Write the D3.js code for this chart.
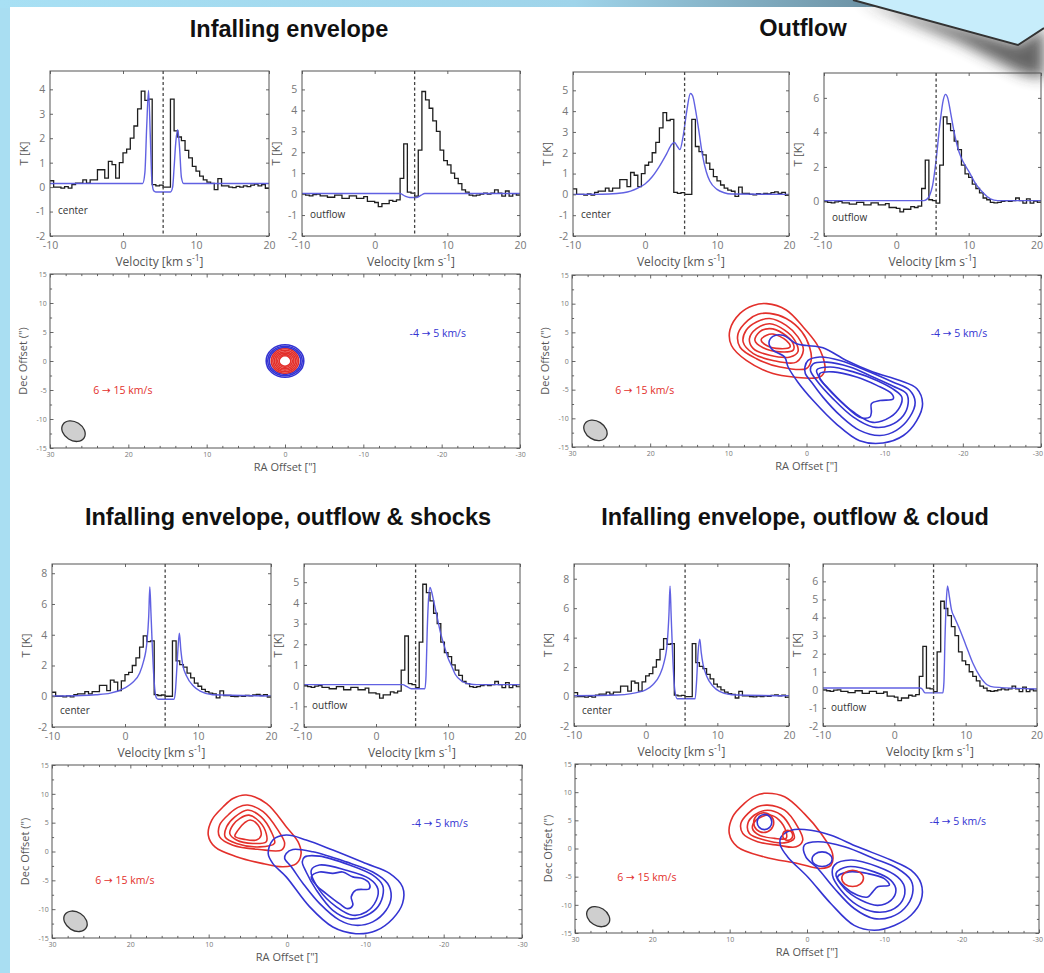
<!DOCTYPE html>
<html><head><meta charset="utf-8">
<script src="https://cdn.jsdelivr.net/npm/d3@7"></script>
<style>body{margin:0;background:#fff}svg{display:block}</style>
</head><body>
<svg id="c" width="1044" height="973"></svg>
<script>
// ---------------- DATA ----------------
const panelTitles = ["Infalling envelope", "Outflow", "Infalling envelope, outflow & shocks", "Infalling envelope, outflow & cloud"];
const velocityStart = -10, channelWidth = 0.5;
const systemicVelocity = 5.5;
const velocityTicks = [-10, 0, 10, 20];

// observed spectra (black histograms), 0.5 km/s channels from -10 km/s
const obsCenter = [0.26,0.0,0.0,-0.04,0.02,-0.04,0.1,0.16,0.16,0.3,0.16,0.3,0.3,0.71,0.71,0.37,1.05,0.92,0.37,1.0,
  1.4,1.55,2.0,2.5,3.2,3.93,3.55,3.6,0.1,0.05,0.08,0.0,0.0,3.6,2.3,2.05,1.9,1.5,1.2,0.85,
  0.65,0.45,0.3,0.2,0.15,-0.1,0.35,0.05,0.05,0.0,-0.02,0.03,0.0,0.05,0.02,0.08,0.12,0.05,0.1,-0.05];
const obsOutflow = [0.0,-0.05,-0.08,-0.02,0.0,-0.08,-0.08,-0.15,-0.15,-0.05,-0.05,-0.2,-0.2,-0.08,-0.08,-0.2,-0.2,-0.12,-0.35,-0.35,
  -0.4,-0.6,-0.45,-0.45,-0.3,-0.35,-0.27,0.75,2.4,0.1,0.05,-0.1,2.1,4.9,4.5,4.1,3.5,3.0,2.1,1.6,
  1.4,1.0,0.75,0.5,0.2,0.1,-0.05,-0.08,-0.05,0.0,0.05,0.0,0.05,0.2,0.05,-0.1,0.15,-0.1,0.02,-0.05];

// model spectra (blue), [velocity, T]
const modelCenterA = [[-10,0.15],[2.7,0.15],[3.0,0.6],[3.25,2.5],[3.5,3.95],[3.75,2.0],[3.95,0.3],[4.2,-0.15],[4.5,-0.2],[6.5,-0.2],[6.8,0.0],[7.0,0.8],[7.25,1.9],[7.5,2.35],[7.75,1.6],[8.0,0.4],[8.3,0.15],[20,0.15]];
const modelOutflowA = [[-10,0.03],[3.5,0.03],[4.2,-0.1],[4.8,-0.16],[5.8,-0.16],[6.4,-0.05],[6.9,0.03],[20,0.03]];
const modelCenterB = [[-10,0],[-5,0.02],[-3,0.08],[-2,0.16],[-1,0.3],[0,0.5],[1,0.85],[2,1.35],[3,1.95],[3.7,2.4],[4.1,2.5],[4.5,2.3],[4.85,2.15],[5.3,2.8],[5.8,4.0],[6.3,4.85],[6.6,4.75],[7,4.1],[7.5,3.0],[8,1.85],[8.5,1.1],[9,0.64],[10,0.24],[11,0.08],[12,0.02],[20,0]];
const modelOutflowB = [[-10,0.05],[3.8,0.05],[4.2,0.12],[4.6,0.35],[5,0.9],[5.5,2.4],[6,4.4],[6.5,5.9],[6.8,6.2],[7.1,6.0],[7.5,5.15],[8,4.0],[8.5,3.1],[9,2.5],[9.5,2.1],[10,1.76],[11,1.0],[12,0.5],[13,0.15],[14,0.05],[20,0.05]];
const modelCenterC = [[-10,0.02],[-6,0.05],[-4,0.1],[-2,0.2],[0,0.55],[1,0.87],[2,1.5],[2.5,2.2],[3,3.5],[3.25,5.2],[3.4,7.1],[3.55,5.5],[3.7,3.7],[4.0,0.9],[4.3,-0.1],[4.6,-0.2],[6.7,-0.2],[6.9,0.3],[7.1,1.8],[7.3,3.4],[7.45,4.1],[7.65,3.0],[7.9,2.07],[8.45,1.3],[9.4,0.65],[10.3,0.33],[12,0.1],[20,0.02]];
const modelOutflowC = [[-10,0.05],[3.7,0.05],[4.3,-0.05],[4.9,-0.15],[6.8,-0.15],[6.95,0.5],[7.1,2.5],[7.25,3.9],[7.5,4.75],[7.75,4.5],[8,4.1],[8.5,3.3],[9,2.5],[9.5,1.9],[10,1.34],[10.5,0.95],[11,0.55],[12,0.2],[13,0.08],[14,0.05],[20,0.05]];
const modelCenterD = [[-10,0.05],[-4,0.1],[-2,0.2],[0,0.45],[1,0.8],[2,1.5],[2.5,2.2],[3,3.6],[3.25,5.6],[3.4,7.5],[3.55,5.6],[3.75,3.0],[4.05,0.5],[4.4,-0.15],[6.9,-0.15],[7.1,1.0],[7.3,2.9],[7.55,3.9],[7.75,3.0],[8,2.2],[8.5,1.4],[9.4,0.7],[10.3,0.35],[12,0.12],[20,0.05]];
const modelOutflowD = [[-10,0.1],[3.6,0.1],[3.9,0.05],[4.3,-0.17],[6.8,-0.17],[6.95,0.4],[7.1,2.8],[7.3,5.0],[7.45,5.75],[7.7,5.2],[8,4.45],[8.5,3.95],[9,3.5],[10,2.5],[11,1.48],[12,0.74],[13,0.28],[14,0.15],[20,0.05]];

// y-axis upper limits and tick values per spectrum panel
const spectrumYMax = [4.75, 5.88, 5.88, 7.44, 8.6, 5.88, 9.0, 6.96];
const ticksBy1to4 = [-2,-1,0,1,2,3,4];
const ticksBy1to5 = [-2,-1,0,1,2,3,4,5];
const ticksBy2to6 = [-2,0,2,4,6];
const ticksBy2to8 = [-2,0,2,4,6,8];
const ticksBy1to6 = [-2,-1,0,1,2,3,4,5,6];
const spectrumLabels = ["center", "outflow"];

// maps
const raTicks = [30,20,10,0,-10,-20,-30];
const decTicks = [-15,-10,-5,0,5,10,15];
const blueRangeLabel = "-4 \u2192 5 km/s", redRangeLabel = "6 \u2192 15 km/s";
const blueLabelPos = [-19.5, 4.7], redLabelPos = [20.7, -5.2];
const beam = {ra: 27.0, dec: -12.1, a: 1.6, b: 1.6, angle: 32};

// map A: concentric rings [rRA, rDec] around the origin
const blueRingsA = [[2.4,2.8],[2.2,2.55],[2.0,2.3]];
const redRingsA = [[1.75,2.1],[1.55,1.85],[1.35,1.6],[1.15,1.35],[0.95,1.1],[0.75,0.9]];

// map B contours [RA, Dec]
const redB = [
 [[5.1,10.0],[2.6,8.9],[0.4,5.9],[-1.3,3.0],[-2.1,0.7],[-2.35,-1.6],[-1.7,-2.8],[1.7,-2.8],[4.3,-2.2],[7.7,0.1],[9.6,2.7],[9.8,5.4],[8.5,8.3],[6.8,9.7]],
 [[4.7,8.3],[2.6,7.4],[0.6,5.1],[-0.4,2.4],[-0.6,0.1],[0.0,-1.3],[3.4,-1.05],[6.4,0.4],[8.5,2.4],[8.75,4.8],[7.5,7.1],[6.2,8.15]],
 [[4.7,7.4],[2.6,6.2],[1.1,4.2],[0.4,1.9],[1.3,-0.2],[4.3,0.1],[6.8,1.3],[8.1,3.3],[7.7,5.4],[6.4,6.8]],
 [[4.7,6.5],[2.8,5.4],[1.5,3.6],[1.1,1.6],[2.1,0.7],[4.7,1.0],[6.8,2.15],[7.3,3.9],[6.4,5.65]],
 [[4.7,5.65],[3.0,4.8],[1.7,3.0],[1.7,1.9],[3.4,1.6],[5.55,2.3],[6.6,3.6],[6.0,5.1]],
 [[4.3,4.7],[2.6,3.6],[2.1,2.45],[3.4,2.15],[5.1,2.7],[5.8,3.7],[5.1,4.5]]
];
const blueB = [
 [[4.3,4.3],[3.0,4.5],[1.3,3.0],[0.0,2.7],[-2.1,2.3],[-5.1,0.1],[-8.5,-1.9],[-11.95,-3.4],[-14.1,-4.8],[-14.85,-7.45],[-14.1,-10.4],[-12.4,-13.0],[-9.8,-14.3],[-6.8,-13.9],[-3.8,-10.95],[-0.85,-6.9],[1.1,-3.7],[2.35,-1.05],[2.8,0.7],[4.3,1.9],[4.8,3.15]],
 [[0.2,-1.05],[-0.2,0.1],[-1.7,0.7],[-4.3,0.1],[-8.1,-1.9],[-11.1,-3.7],[-13.2,-5.1],[-13.9,-7.2],[-13.2,-9.8],[-11.5,-12.1],[-9.4,-13.0],[-6.8,-12.1],[-4.3,-9.5],[-2.1,-6.3],[-0.65,-3.7],[0.15,-2.2]],
 [[-0.85,-0.5],[-2.6,-0.2],[-5.55,-1.05],[-8.5,-2.8],[-11.1,-4.4],[-12.8,-5.7],[-13.0,-7.45],[-12.4,-9.5],[-10.7,-11.2],[-8.5,-11.5],[-6.0,-9.8],[-3.4,-6.6],[-1.3,-3.4],[-0.5,-1.6]],
 [[-1.3,-1.6],[-3.0,-1.05],[-6.0,-1.9],[-9.0,-3.4],[-11.3,-5.1],[-12.2,-6.3],[-11.95,-8.0],[-10.7,-9.8],[-8.5,-10.7],[-6.0,-8.9],[-3.8,-6.3],[-1.9,-3.4]],
 [[-1.7,-2.2],[-3.4,-1.9],[-6.4,-2.8],[-9.0,-4.25],[-10.9,-5.7],[-11.1,-6.6],[-9.4,-6.9],[-8.3,-7.45],[-8.3,-8.9],[-8.1,-9.8],[-6.8,-9.8],[-4.7,-7.45],[-2.8,-4.8],[-1.7,-3.1]]
];
// map C contours
const redC = [
 [[5.2,9.8],[2.6,8.3],[0.1,4.3],[-1.4,1.7],[-1.8,-0.35],[-1.2,-2.1],[0.5,-2.65],[3.05,-2.1],[6.45,-0.9],[9.2,0.8],[10.05,2.85],[9.6,5.45],[8.15,7.75],[6.9,9.2]],
 [[5.0,8.05],[3.05,6.9],[1.15,3.7],[0.3,1.4],[0.7,0.25],[3.5,0.35],[6.9,1.1],[8.6,2.55],[8.6,4.6],[7.3,6.6],[6.25,7.65]],
 [[5.0,7.2],[3.3,6.0],[2.0,3.4],[1.6,1.4],[3.5,0.8],[6.45,1.4],[7.9,2.55],[7.7,4.3],[6.65,6.0]],
 [[4.85,6.3],[3.5,5.15],[2.65,3.1],[2.65,1.7],[4.35,1.4],[6.45,2.0],[7.3,3.1],[6.9,4.6],[6.0,5.75]],
 [[4.7,5.45],[3.7,4.6],[3.3,2.85],[3.9,2.0],[5.4,2.1],[6.65,2.65],[6.25,3.7],[5.4,5.0]]
];
const blueC = [
 [[1.8,2.0],[0.1,2.85],[-2.45,2.0],[-5.85,0.25],[-10.1,-2.1],[-13.1,-3.8],[-14.75,-6.15],[-14.75,-9.0],[-13.5,-11.65],[-11.4,-13.7],[-8.8,-14.25],[-5.85,-13.1],[-2.9,-9.6],[0.1,-4.4],[1.8,-2.1],[2.4,-0.35]],
 [[0.1,-0.35],[-0.75,0.35],[-3.3,-0.05],[-7.55,-1.8],[-10.95,-3.55],[-12.85,-5.55],[-13.3,-7.85],[-12.65,-10.2],[-10.95,-12.2],[-8.8,-12.8],[-6.7,-11.9],[-4.15,-9.0],[-2.05,-5.55],[-0.55,-2.65],[0.3,-1.2]],
 [[-2.25,-0.95],[-4.15,-0.8],[-8.0,-2.35],[-10.95,-4.1],[-12.2,-5.85],[-12.2,-7.85],[-11.4,-9.9],[-9.65,-11.35],[-8.0,-11.65],[-5.85,-10.2],[-3.75,-6.7],[-2.45,-3.55],[-1.95,-1.8]],
 [[-3.1,-3.25],[-4.15,-2.35],[-7.55,-3.25],[-10.5,-4.7],[-11.6,-6.45],[-11.4,-8.45],[-10.1,-10.5],[-8.4,-11.05],[-6.3,-9.6],[-4.15,-6.7]],
 [[-3.1,-4.4],[-4.15,-3.55],[-5.85,-3.8],[-7.1,-3.55],[-8.4,-4.4],[-9.65,-4.7],[-10.5,-5.55],[-10.5,-6.45],[-8.8,-6.7],[-8.2,-7.85],[-8.4,-9.3],[-7.75,-9.9],[-6.7,-9.05],[-5.0,-7.3],[-3.75,-5.85]]
];
// map D contours
const redD = [
 [[5.5,9.8],[2.9,9.2],[0.35,6.2],[-1.8,2.7],[-3.3,-0.9],[-3.1,-2.95],[-1.8,-3.55],[1.2,-2.65],[5.5,-1.5],[9.0,0.3],[10.05,2.65],[9.6,5.65],[8.1,8.0],[6.8,9.3]],
 [[5.1,7.7],[2.9,6.8],[1.2,3.85],[0.55,1.5],[1.4,0.3],[3.8,0.6],[6.4,1.2],[8.3,2.65],[8.55,4.45],[7.65,6.2],[6.4,7.4]],
 [[5.1,6.8],[3.35,5.95],[2.05,3.55],[1.65,1.8],[2.95,1.0],[5.5,1.5],[7.45,2.65],[7.65,4.45],[6.8,5.95]],
 [[4.85,5.95],[3.6,5.05],[2.7,2.95],[2.7,1.8],[4.2,1.8],[6.15,2.35],[7.05,3.55],[6.6,5.05]]
];
const blueD = [
 [[3.35,2.05],[2.05,3.25],[-0.5,3.25],[-3.1,2.35],[-6.55,0.3],[-10.85,-2.05],[-13.45,-3.85],[-14.75,-6.2],[-14.75,-9.2],[-13.45,-11.85],[-11.3,-13.65],[-8.7,-14.5],[-6.1,-13.65],[-3.1,-9.8],[-0.1,-5.05],[2.5,-1.5],[3.45,0.6]],
 [[0.35,0.6],[-1.4,1.2],[-4.85,0.3],[-8.7,-1.8],[-11.7,-3.55],[-13.45,-5.65],[-13.65,-8.0],[-12.6,-10.65],[-10.85,-12.15],[-8.7,-12.45],[-6.1,-10.65],[-3.55,-7.1],[-1.4,-3.55],[0.15,-1.5]],
 [[-3.55,-2.95],[-5.7,-2.05],[-9.15,-3.25],[-11.7,-5.05],[-12.6,-6.8],[-12.35,-9.2],[-10.85,-10.95],[-8.7,-11.25],[-6.55,-10.1],[-4.4,-7.4],[-3.3,-4.75]],
 [[-3.75,-4.45],[-5.25,-3.25],[-8.7,-4.15],[-10.85,-5.65],[-11.5,-7.4],[-10.85,-9.2],[-9.15,-10.1],[-7.0,-9.2],[-4.85,-7.1]],
 [[-3.95,-5.05],[-5.45,-4.15],[-7.85,-4.45],[-10.0,-5.35],[-10.65,-6.5],[-9.15,-6.8],[-8.5,-7.7],[-7.85,-8.6],[-6.55,-8.3],[-4.85,-6.8]]
];
// isolated elliptical contours [RA, Dec, rRA, rDec]
const redBlobsD = [[5.6,4.6,1.3,1.75],[2.5,2.35,0.65,0.9],[-5.9,-5.3,1.4,1.45]];
const blueBlobsD = [[5.5,4.7,0.95,1.35],[-1.95,-1.9,1.3,1.3]];

// ---------------- DRAWING ----------------
const svg = d3.select("#c");
const defs = svg.append("defs");
const BLUE = "#3434d2", RED = "#e3302b", MODEL = "#5858e0";
const FONT = "'Open Sans','DejaVu Sans',sans-serif";
const PAGE_RIGHT = 1043;
let clipN = 0;

// background / page
const gTop = defs.append("linearGradient").attr("id","topband").attr("x1",0).attr("x2",1).attr("y1",0).attr("y2",0);
[[0,"#a8e0f4"],[0.55,"#9fd4ea"],[0.82,"#6f95a8"],[1,"#6f95a8"]].forEach(s=>gTop.append("stop").attr("offset",s[0]).attr("stop-color",s[1]));
const fl = defs.append("filter").attr("id","blur").attr("x","-50%").attr("y","-50%").attr("width","200%").attr("height","200%");
fl.append("feGaussianBlur").attr("stdDeviation",7);
svg.append("rect").attr("width",1044).attr("height",973).attr("fill","#a9def2");
svg.append("rect").attr("x",0).attr("y",0).attr("width",1044).attr("height",8).attr("fill","url(#topband)");
svg.append("rect").attr("x",10).attr("y",7).attr("width",1034).attr("height",966).attr("fill","#fff");
svg.append("path").attr("d","M858,0 L1018,44 L1044,28 L1044,78 L1022,74 L960,42 Z").attr("fill","#333").attr("opacity",0.75).attr("filter","url(#blur)");
svg.append("path").attr("d","M853,0 L1018,45 L1044,28 L1044,0 Z").attr("fill","#c7edfb");
svg.append("path").attr("d","M853,0 L1018,45 L1044,28").attr("fill","none").attr("stroke","#333").attr("stroke-width",2);

// titles
const titlePos = [[289,37],[803,36],[288,525],[795,525]];
panelTitles.forEach((t,i)=>svg.append("text").attr("x",titlePos[i][0]).attr("y",titlePos[i][1])
  .attr("text-anchor","middle").attr("font-family","'Liberation Sans',Arial,sans-serif").attr("font-weight","bold")
  .attr("font-size",23.5).attr("fill","#111").text(t));

function clipRect(b){
  const id = "clip"+(clipN++);
  defs.append("clipPath").attr("id",id).append("rect").attr("x",b.x0).attr("y",b.y0).attr("width",b.x1-b.x0).attr("height",b.y1-b.y0);
  return `url(#${id})`;
}
function styleAxis(g, fs){
  g.select(".domain").remove();
  g.selectAll(".tick line").attr("stroke","#666");
  g.selectAll(".tick text").attr("fill","#777").attr("font-size",fs).attr("font-family",FONT)
    .each(function(){
      const r = this.getBoundingClientRect();
      if (r.right > PAGE_RIGHT) d3.select(this).attr("dx", -(r.right - PAGE_RIGHT));
    });
}
function frame(b, x, y, xt, yt, xMinor, yMinor, fs, tick){
  const g = svg.append("g");
  const fmt = d => String(d);
  const bx = d3.axisBottom(x).tickValues(xt).tickSize(-tick).tickPadding(fs*0.55).tickFormat(fmt);
  g.append("g").attr("transform",`translate(0,${b.y1})`).call(bx).call(s=>styleAxis(s,fs));
  g.append("g").attr("transform",`translate(0,${b.y0})`).call(d3.axisTop(x).tickValues(xt).tickSize(-tick).tickFormat("")).call(s=>styleAxis(s,fs));
  g.append("g").attr("transform",`translate(${b.x0},0)`).call(d3.axisLeft(y).tickValues(yt).tickSize(-tick).tickPadding(fs*0.45).tickFormat(fmt)).call(s=>styleAxis(s,fs));
  g.append("g").attr("transform",`translate(${b.x1},0)`).call(d3.axisRight(y).tickValues(yt).tickSize(-tick).tickFormat("")).call(s=>styleAxis(s,fs));
  if (xMinor){
    [[b.y1,"axisBottom"],[b.y0,"axisTop"]].forEach(([yy,a])=>g.append("g").attr("transform",`translate(0,${yy})`)
      .call(d3[a](x).tickValues(xMinor).tickSize(-tick*0.6).tickFormat("")).call(s=>styleAxis(s,fs)));
  }
  if (yMinor){
    [[b.x0,"axisLeft"],[b.x1,"axisRight"]].forEach(([xx,a])=>g.append("g").attr("transform",`translate(${xx},0)`)
      .call(d3[a](y).tickValues(yMinor).tickSize(-tick*0.6).tickFormat("")).call(s=>styleAxis(s,fs)));
  }
  g.append("rect").attr("x",b.x0).attr("y",b.y0).attr("width",b.x1-b.x0).attr("height",b.y1-b.y0)
    .attr("fill","none").attr("stroke","#555").attr("stroke-width",1);
  return g;
}

function drawSpectrum(b, obs, model, yMax, yTicks, label){
  const x = d3.scaleLinear().domain([-10,20]).range([b.x0,b.x1]);
  const y = d3.scaleLinear().domain([-2,yMax]).range([b.y1,b.y0]);
  const plot = svg.append("g").attr("clip-path",clipRect(b));
  const pts = obs.map((t,i)=>[velocityStart+i*channelWidth, t]);
  pts.push([velocityStart+obs.length*channelWidth, obs[obs.length-1]]);
  plot.append("path").attr("d",d3.line().x(d=>x(d[0])).y(d=>y(d[1])).curve(d3.curveStepAfter)(pts))
    .attr("fill","none").attr("stroke","#1e1e1e").attr("stroke-width",1.3);
  plot.append("path").attr("d",d3.line().x(d=>x(d[0])).y(d=>y(d[1])).curve(d3.curveMonotoneX)(model))
    .attr("fill","none").attr("stroke",MODEL).attr("stroke-width",1.4).attr("opacity",0.95);
  plot.append("line").attr("x1",x(systemicVelocity)).attr("x2",x(systemicVelocity)).attr("y1",b.y0).attr("y2",b.y1)
    .attr("stroke","#444").attr("stroke-width",1.3).attr("stroke-dasharray","3,2.5");
  plot.append("text").attr("x",b.x0+8).attr("y",y(-1)).attr("dominant-baseline","middle")
    .attr("font-family",FONT).attr("font-size",10).attr("fill","#333").text(label);
  frame(b, x, y, velocityTicks, yTicks, null, null, 10.5, 3);
  const xl = svg.append("text").attr("x",(b.x0+b.x1)/2).attr("y",b.y1+30).attr("text-anchor","middle")
    .attr("font-family",FONT).attr("font-size",12).attr("fill","#555");
  xl.append("tspan").text("Velocity [km s");
  xl.append("tspan").attr("dy",-5).attr("font-size",8.5).text("-1");
  xl.append("tspan").attr("dy",5).text("]");
  svg.append("text").attr("transform",`translate(${b.x0-25},${(b.y0+b.y1)/2}) rotate(-90)`).attr("text-anchor","middle")
    .attr("dominant-baseline","middle").attr("font-family",FONT).attr("font-size",11.5).attr("fill","#555").text("T [K]");
}

function drawMap(b, cfg){
  const x = d3.scaleLinear().domain([30,-30]).range([b.x0,b.x1]);
  const y = d3.scaleLinear().domain([-15,15]).range([b.y1,b.y0]);
  const plot = svg.append("g").attr("clip-path",clipRect(b));
  const line = d3.line().x(d=>x(d[0])).y(d=>y(d[1])).curve(d3.curveCatmullRomClosed.alpha(0.5));
  const ell = (arr, col) => arr.forEach(e=>plot.append("ellipse").attr("cx",x(e[0])).attr("cy",y(e[1]))
      .attr("rx",Math.abs(x(e[2])-x(0))).attr("ry",Math.abs(y(e[3])-y(0)))
      .attr("fill","none").attr("stroke",col).attr("stroke-width",1.6));
  (cfg.red||[]).forEach(c=>plot.append("path").attr("d",line(c)).attr("fill","none").attr("stroke",RED).attr("stroke-width",1.6));
  (cfg.blue||[]).forEach(c=>plot.append("path").attr("d",line(c)).attr("fill","none").attr("stroke",BLUE).attr("stroke-width",1.6));
  if (cfg.blueRings) ell(cfg.blueRings.map(r=>[0,0,r[0],r[1]]), BLUE);
  if (cfg.redRings) ell(cfg.redRings.map(r=>[0,0,r[0],r[1]]), RED);
  if (cfg.redBlobs) ell(cfg.redBlobs, RED);
  if (cfg.blueBlobs) ell(cfg.blueBlobs, BLUE);
  // beam
  const bx = x(beam.ra), by = y(beam.dec);
  plot.append("ellipse").attr("cx",bx).attr("cy",by)
    .attr("rx",Math.abs(x(beam.a)-x(0))).attr("ry",Math.abs(y(beam.b)-y(0)))
    .attr("transform",`rotate(${beam.angle},${bx},${by})`)
    .attr("fill","#cfcfcf").attr("stroke","#333").attr("stroke-width",1.3);
  plot.append("text").attr("x",x(blueLabelPos[0])).attr("y",y(blueLabelPos[1])).attr("text-anchor","middle")
    .attr("dominant-baseline","middle").attr("font-family",FONT).attr("font-size",10.5).attr("fill",BLUE).text(blueRangeLabel);
  plot.append("text").attr("x",x(redLabelPos[0])).attr("y",y(redLabelPos[1])).attr("text-anchor","middle")
    .attr("dominant-baseline","middle").attr("font-family",FONT).attr("font-size",10.5).attr("fill",RED).text(redRangeLabel);
  const xMinor = d3.range(-28, 30, 2).filter(v=>v%10!==0);
  const yMinor = [-12.5,-7.5,-2.5,2.5,7.5,12.5];
  frame(b, x, y, raTicks, decTicks, xMinor, yMinor, 7, 3.5);
  svg.append("text").attr("x",(b.x0+b.x1)/2).attr("y",b.y1+20).attr("text-anchor","middle").attr("dominant-baseline","middle")
    .attr("font-family",FONT).attr("font-size",11).attr("fill","#555").text('RA Offset ["]');
  svg.append("text").attr("transform",`translate(${b.x0-26},${(b.y0+b.y1)/2}) rotate(-90)`).attr("text-anchor","middle")
    .attr("dominant-baseline","middle").attr("font-family",FONT).attr("font-size",11).attr("fill","#555").text('Dec Offset (")');
}

// spectrum panels
drawSpectrum({x0:50,x1:269,y0:71,y1:236}, obsCenter, modelCenterA, spectrumYMax[0], ticksBy1to4, spectrumLabels[0]);
drawSpectrum({x0:302,x1:520,y0:71,y1:236}, obsOutflow, modelOutflowA, spectrumYMax[1], ticksBy1to5, spectrumLabels[1]);
drawSpectrum({x0:573,x1:789,y0:72,y1:236}, obsCenter, modelCenterB, spectrumYMax[2], ticksBy1to5, spectrumLabels[0]);
drawSpectrum({x0:824,x1:1041,y0:73,y1:236}, obsOutflow, modelOutflowB, spectrumYMax[3], ticksBy2to6, spectrumLabels[1]);
drawSpectrum({x0:52,x1:271,y0:564,y1:727}, obsCenter, modelCenterC, spectrumYMax[4], ticksBy2to8, spectrumLabels[0]);
drawSpectrum({x0:304,x1:520,y0:564,y1:727}, obsOutflow, modelOutflowC, spectrumYMax[5], ticksBy1to5, spectrumLabels[1]);
drawSpectrum({x0:574,x1:789,y0:564,y1:726}, obsCenter, modelCenterD, spectrumYMax[6], ticksBy2to8, spectrumLabels[0]);
drawSpectrum({x0:823,x1:1037,y0:564,y1:726}, obsOutflow, modelOutflowD, spectrumYMax[7], ticksBy1to6, spectrumLabels[1]);

// map panels
drawMap({x0:50,x1:520,y0:274,y1:448}, {blueRings: blueRingsA, redRings: redRingsA});
drawMap({x0:572,x1:1041,y0:275,y1:447}, {red: redB, blue: blueB});
drawMap({x0:52,x1:522,y0:765,y1:938}, {red: redC, blue: blueC});
drawMap({x0:575,x1:1039,y0:764,y1:933}, {red: redD, blue: blueD, redBlobs: redBlobsD, blueBlobs: blueBlobsD});
</script>
</body></html>
